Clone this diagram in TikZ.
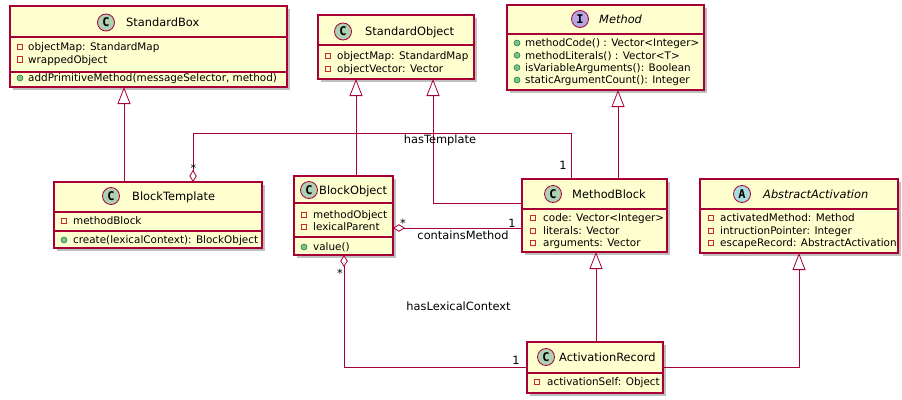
\documentclass[tikz,border=0pt]{standalone}
\usepackage{fontspec}
\setmainfont{DejaVu Sans}
\newfontfamily\iconfont{DejaVu Sans Mono}
\usetikzlibrary{arrows.meta}
\usetikzlibrary{shadows}
\definecolor{uml red}{HTML}{A80036}
\definecolor{uml yellow}{HTML}{FEFECE}
\definecolor{class green}{HTML}{ADD1B2}
\definecolor{interface purple}{HTML}{B4A7E5}
\definecolor{abstract blue}{HTML}{A9DCDF}
\definecolor{private red}{HTML}{C82930}
\definecolor{public green}{HTML}{84BE84}
\definecolor{public border}{HTML}{038048}

\begin{document}
\begin{tikzpicture}[x=1pt, y=-1pt]
            \tikzset{classbox/.style 2 args={draw=uml red, line width=1.1pt, fill=uml yellow, minimum width=#1, minimum height=#2, inner sep=0pt, outer sep=0pt, drop shadow={shadow xshift=3pt, shadow yshift=-3pt, fill=black, opacity=0.25}}}
            \tikzset{separator/.style={draw=uml red, line width=1.1pt}}
            \tikzset{classicon/.style={circle, draw=uml red, line width=0.8pt, fill=#1, minimum size=17pt, inner sep=0pt, font={\iconfont\bfseries\fontsize{12}{12}\selectfont}}}
            \tikzset{classname/.style={anchor=west, inner sep=0pt, text height=8.4pt, text depth=0pt, font={\fontsize{11.4}{13}\selectfont}}}
            \tikzset{member/.style={anchor=west, inner sep=0pt, text height=7.4pt, text depth=0pt, font={\fontsize{10.4}{12}\selectfont}}}
            \tikzset{private/.style={draw=private red, line width=0.7pt, minimum size=5.5pt, inner sep=0pt}}
            \tikzset{public/.style={circle, draw=public border, line width=0.5pt, fill=public green, minimum size=6pt, inner sep=0pt}}
            \tikzset{inherit/.style={draw=uml red, line width=0.8pt, -{Triangle[fill=white, length=17pt, width=13pt]}}}
            \tikzset{aggregation/.style={draw=uml red, line width=0.8pt, {Diamond[fill=white, length=12pt, width=7.5pt]}-}}
            \tikzset{assoc/.style={anchor=base, inner sep=0pt, font={\fontsize{11.4}{13}\selectfont}}}
            \useasboundingbox (0,0) rectangle (902,399);

            \node[classbox={277pt}{81pt}] (standardbox) at (148.5,46.5) {};
            \draw[separator] ([yshift=-31pt]standardbox.north west) -- ([yshift=-31pt]standardbox.north east);
            \draw[separator] ([yshift=-66pt]standardbox.north west) -- ([yshift=-66pt]standardbox.north east);
            \node[classicon=class green] (standardbox icon) at (106,22.5) {C};
            \node[classname] (standardbox name) at (126,22.5) {StandardBox};
            \node[private] (standardbox p1) at (20,46.7) {};
            \node[member] (standardbox a1) at (28,46.7) {objectMap: StandardMap};
            \node[private] (standardbox p2) at (20,59.3) {};
            \node[member] (standardbox a2) at (28,59.3) {wrappedObject};
            \node[public] (standardbox p3) at (20,78) {};
            \node[member] (standardbox m1) at (28,78) {addPrimitiveMethod(messageSelector, method)};

            \node[classbox={156pt}{64pt}] (standardobject) at (396,47) {};
            \draw[separator] ([yshift=-30pt]standardobject.north west) -- ([yshift=-30pt]standardobject.north east);
            \node[classicon=class green] (standardobject icon) at (343,31.5) {C};
            \node[classname] (standardobject name) at (365,31.5) {StandardObject};
            \node[private] (standardobject p1) at (328,56) {};
            \node[member] (standardobject a1) at (337,56) {objectMap: StandardMap};
            \node[private] (standardobject p2) at (328,69) {};
            \node[member] (standardobject a2) at (337,69) {objectVector: Vector};

            \node[classbox={197pt}{85pt}] (method) at (605.5,47.5) {};
            \draw[separator] ([yshift=-29pt]method.north west) -- ([yshift=-29pt]method.north east);
            \node[classicon=interface purple] (method icon) at (580,19) {I};
            \node[classname] (method name) at (599,19) {\itshape Method};
            \node[public] (method p1) at (517,43) {};
            \node[member] (method m1) at (525,43) {methodCode() : Vector<Integer>};
            \node[public] (method p2) at (517,55.3) {};
            \node[member] (method m2) at (525,55.3) {methodLiterals() : Vector<T>};
            \node[public] (method p3) at (517,67.6) {};
            \node[member] (method m3) at (525,67.6) {isVariableArguments(): Boolean};
            \node[public] (method p4) at (517,80) {};
            \node[member] (method m4) at (525,80) {staticArgumentCount(): Integer};

            \node[classbox={208pt}{66pt}] (blocktemplate) at (158,215) {};
            \draw[separator] ([yshift=-30pt]blocktemplate.north west) -- ([yshift=-30pt]blocktemplate.north east);
            \draw[separator] ([yshift=-49pt]blocktemplate.north west) -- ([yshift=-49pt]blocktemplate.north east);
            \node[classicon=class green] (blocktemplate icon) at (111,196) {C};
            \node[classname] (blocktemplate name) at (132,196) {BlockTemplate};
            \node[private] (blocktemplate p1) at (64,221) {};
            \node[member] (blocktemplate a1) at (73,221) {methodBlock};
            \node[public] (blocktemplate p2) at (64,240) {};
            \node[member] (blocktemplate m1) at (73,240) {create(lexicalContext): BlockObject};

            \node[classbox={99pt}{79pt}] (blockobject) at (343.5,215.5) {};
            \draw[separator] ([yshift=-27pt]blockobject.north west) -- ([yshift=-27pt]blockobject.north east);
            \draw[separator] ([yshift=-61pt]blockobject.north west) -- ([yshift=-61pt]blockobject.north east);
            \node[classicon=class green] (blockobject icon) at (309,190) {C};
            \node[classname] (blockobject name) at (319,190) {BlockObject};
            \node[private] (blockobject p1) at (304,215) {};
            \node[member] (blockobject a1) at (313,215) {methodObject};
            \node[private] (blockobject p2) at (304,227) {};
            \node[member] (blockobject a2) at (313,227) {lexicalParent};
            \node[public] (blockobject p3) at (304,247) {};
            \node[member] (blockobject m1) at (313,247) {value()};

            \node[classbox={145pt}{73pt}] (methodblock) at (594.5,215.5) {};
            \draw[separator] ([yshift=-30pt]methodblock.north west) -- ([yshift=-30pt]methodblock.north east);
            \node[classicon=class green] (methodblock icon) at (553,194) {C};
            \node[classname] (methodblock name) at (572,194) {MethodBlock};
            \node[private] (methodblock p1) at (533,218) {};
            \node[member] (methodblock a1) at (543,218) {code: Vector<Integer>};
            \node[private] (methodblock p2) at (533,231) {};
            \node[member] (methodblock a2) at (543,231) {literals: Vector};
            \node[private] (methodblock p3) at (533,243) {};
            \node[member] (methodblock a3) at (543,243) {arguments: Vector};

            \node[classbox={198pt}{74pt}] (abstractactivation) at (799,216) {};
            \draw[separator] ([yshift=-30pt]abstractactivation.north west) -- ([yshift=-30pt]abstractactivation.north east);
            \node[classicon=abstract blue] (abstractactivation icon) at (742,194) {A};
            \node[classname] (abstractactivation name) at (763,194) {\itshape AbstractActivation};
            \node[private] (abstractactivation p1) at (711,218) {};
            \node[member] (abstractactivation a1) at (720,218) {activatedMethod: Method};
            \node[private] (abstractactivation p2) at (711,231) {};
            \node[member] (abstractactivation a2) at (720,231) {intructionPointer: Integer};
            \node[private] (abstractactivation p3) at (711,243) {};
            \node[member] (abstractactivation a3) at (720,243) {escapeRecord: AbstractActivation};

            \node[classbox={136pt}{51pt}] (activationrecord) at (595,367.5) {};
            \draw[separator] ([yshift=-31pt]activationrecord.north west) -- ([yshift=-31pt]activationrecord.north east);
            \node[classicon=class green] (activationrecord icon) at (546,357) {C};
            \node[classname] (activationrecord name) at (559,357) {ActivationRecord};
            \node[private] (activationrecord p1) at (537,382) {};
            \node[member] (activationrecord a1) at (547,382) {activationSelf: Object};

            \draw[inherit] ([xshift=-34pt]blocktemplate.north) -- ([xshift=-34pt]blocktemplate.north |- standardbox.south);
            \draw[inherit] ([xshift=12.5pt]blockobject.north) -- ([xshift=12.5pt]blockobject.north |- standardobject.south);
            \draw[inherit] ([yshift=12.5pt]methodblock.west) -| ([xshift=37pt]standardobject.south);
            \draw[inherit] ([xshift=23.5pt]methodblock.north) -- ([xshift=23.5pt]methodblock.north |- method.south);
            \draw[inherit] ([xshift=1pt]activationrecord.north) -- ([xshift=1pt]activationrecord.north |- methodblock.south);
            \draw[inherit] (activationrecord.east) -| (abstractactivation.south);

            \draw[aggregation] ([xshift=35pt]blocktemplate.north) -- ++(0,-49) -| ([xshift=-23.5pt]methodblock.north);
            \draw[aggregation] ([yshift=-12.5pt]blockobject.east) -- ([yshift=-12.5pt]methodblock.west);
            \draw[aggregation] ([xshift=0.5pt]blockobject.south) |- (activationrecord.west);

            \node[assoc] (hastemplate label) at (440,143) {hasTemplate};
            \node[assoc] (hastemplate many) at (193.5,172) {*};
            \node[assoc] (hastemplate one) at (563,169.5) {1};
            \node[assoc] (containsmethod label) at (463,239.5) {containsMethod};
            \node[assoc] (containsmethod many) at (403,227) {*};
            \node[assoc] (containsmethod one) at (512,227) {1};
            \node[assoc] (haslexicalcontext label) at (458.5,310.5) {hasLexicalContext};
            \node[assoc] (haslexicalcontext many) at (340,277) {*};
            \node[assoc] (haslexicalcontext one) at (516,364.3) {1};
        \end{tikzpicture}
\end{document}
